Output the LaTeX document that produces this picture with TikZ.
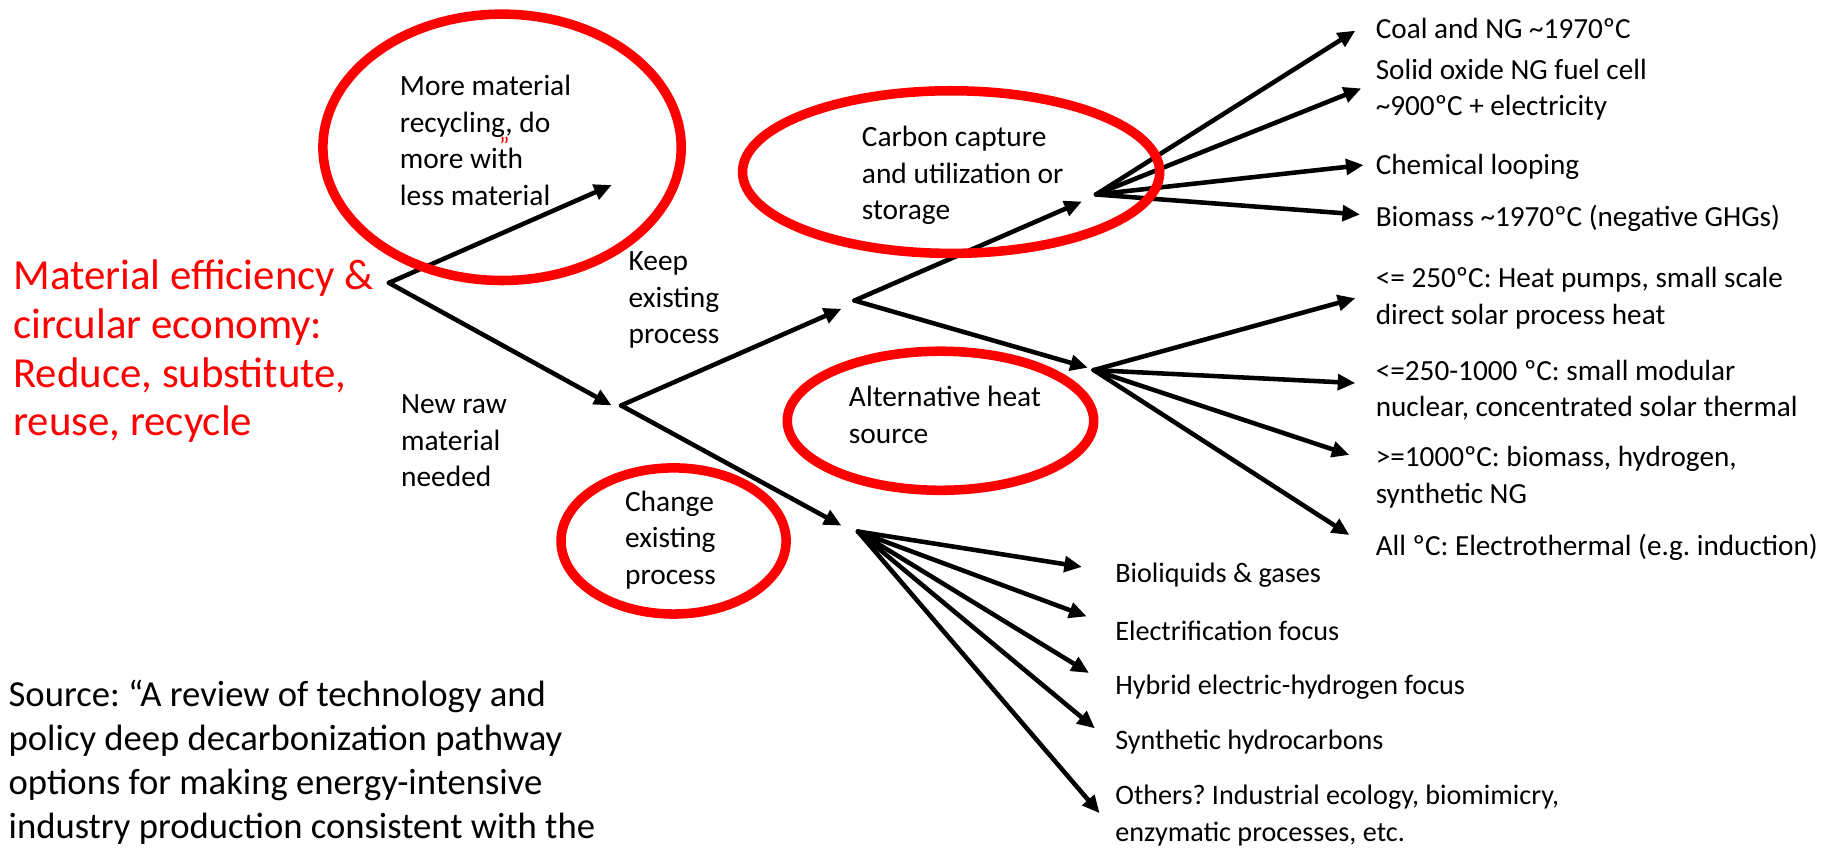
\documentclass[tikz,border=0pt]{standalone}
\usepackage{fontspec}
\setmainfont{Carlito}
\usepackage{xcolor}
\usepackage{tikz}
\usetikzlibrary{arrows.meta}
\definecolor{ringred}{RGB}{255,0,0}
\frenchspacing

\begin{document}
\begin{tikzpicture}[
    x=0.02cm, y=-0.02cm,
    arr/.style={line width=2.2pt, line cap=round, -{Triangle[length=8.5pt,width=7.5pt]}},
    ring/.style={draw=ringred, line width=4.6pt},
    lbl/.style={anchor=west, inner sep=0pt, align=left, font=\fontsize{14.2}{17.6}\selectfont},
    leaf/.style={lbl, font=\fontsize{14.1}{17.6}\selectfont},
    fanleaf/.style={lbl, font=\fontsize{13.6}{17.6}\selectfont},
    goal/.style={anchor=west, inner sep=0pt, align=left, text=ringred, font=\fontsize{20.7}{23.6}\selectfont},
    srcnote/.style={anchor=west, inner sep=0pt, align=left, font=\fontsize{17.7}{21.3}\selectfont}
]
\useasboundingbox (0,0) rectangle (1568,720);
% texts
\node[goal] (goal) at (11,298) {Material efficiency \&\\circular economy:\\Reduce, substitute,\\reuse, recycle};
\node[lbl] (recyc) at (339,119) {More material\\recycling, do\\more with\\less material};
\node[text=ringred, inner sep=0pt, font=\fontsize{12}{12}\selectfont] (quote) at (428,124) {”};
\node[lbl] (keepl) at (533,254.5) {Keep\\existing\\process};
\node[lbl] (rawl) at (340,374) {New raw\\material\\needed};
\node[lbl] (ccsl) at (731,149) {Carbon capture\\and utilization or\\storage};
\node[lbl] (heatl) at (720,352) {Alternative heat\\source};
\node[lbl] (chgl) at (530,458) {Change\\existing\\process};
\node[leaf] (coal) at (1167,24) {Coal and NG \textasciitilde1970ºC};
\node[leaf] (sofc) at (1167,76) {Solid oxide NG fuel cell\\\textasciitilde900ºC + electricity};
\node[leaf] (loop) at (1167,141.5) {Chemical looping};
\node[leaf] (biom) at (1167,185) {Biomass \textasciitilde1970ºC (negative GHGs)};
\node[leaf] (low) at (1167,253) {<= 250ºC: Heat pumps, small scale\\direct solar process heat};
\node[leaf] (mid) at (1167,331) {<=250-1000 ºC: small modular\\nuclear, concentrated solar thermal};
\node[leaf] (high) at (1167,405) {>=1000ºC: biomass, hydrogen,\\synthetic NG};
\node[leaf] (allt) at (1167,464) {All ºC: Electrothermal (e.g. induction)};
\node[fanleaf] (bioq) at (946,488) {Bioliquids \& gases};
\node[fanleaf] (elfc) at (946,535) {Electrification focus};
\node[fanleaf] (hyb) at (946,583) {Hybrid electric-hydrogen focus};
\node[fanleaf] (synh) at (946,629.5) {Synthetic hydrocarbons};
\node[fanleaf] (oth) at (946,692) {Others? Industrial ecology, biomimicry,\\enzymatic processes, etc.};
\node[srcnote] (src) at (7,647) {Source: “A review of technology and\\policy deep decarbonization pathway\\options for making energy-intensive\\industry production consistent with the};
% branch points and tips
\coordinate (root) at (330,240);
\coordinate (mmtip) at (519,157);
\coordinate (rawtip) at (519,344);
\coordinate (raw) at (527,344);
\coordinate (keeptip) at (714,262);
\coordinate (keep) at (725,255);
\coordinate (chgtip) at (714,446);
\coordinate (chg) at (728,451);
\coordinate (ccstip) at (918,171);
\coordinate (ccs) at (930,165);
\coordinate (heattip) at (923,312);
\coordinate (heat) at (928,314);
\coordinate (tcoal) at (1150,26);
\coordinate (tsofc) at (1155,75);
\coordinate (tloop) at (1157,140);
\coordinate (tbiom) at (1154,182);
\coordinate (tlow) at (1150,253);
\coordinate (tmid) at (1150,325);
\coordinate (thigh) at (1145,386);
\coordinate (tallt) at (1145,454);
\coordinate (tbioq) at (918,481);
\coordinate (telfc) at (922,523);
\coordinate (thyb) at (924,571);
\coordinate (tsynh) at (929,618);
\coordinate (toth) at (933,690);
% arrows
\draw[arr] (root) -- (mmtip); \draw[arr] (root) -- (rawtip);
\draw[arr] (raw) -- (keeptip); \draw[arr] (raw) -- (chgtip);
\draw[arr] (keep) -- (ccstip); \draw[arr] (keep) -- (heattip);
\draw[arr] (ccs) -- (tcoal); \draw[arr] (ccs) -- (tsofc);
\draw[arr] (ccs) -- (tloop); \draw[arr] (ccs) -- (tbiom);
\draw[arr] (heat) -- (tlow); \draw[arr] (heat) -- (tmid);
\draw[arr] (heat) -- (thigh); \draw[arr] (heat) -- (tallt);
\draw[arr] (chg) -- (tbioq); \draw[arr] (chg) -- (telfc);
\draw[arr] (chg) -- (thyb); \draw[arr] (chg) -- (tsynh);
\draw[arr] (chg) -- (toth);
% red rings
\draw[ring] (426,125) ellipse [x radius=152, y radius=113];
\draw[ring] (807,146) ellipse [x radius=177, y radius=69];
\draw[ring] (798,357) ellipse [x radius=130, y radius=59];
\draw[ring] (571.5,459) ellipse [x radius=95.5, y radius=62];
\end{tikzpicture}
\end{document}
